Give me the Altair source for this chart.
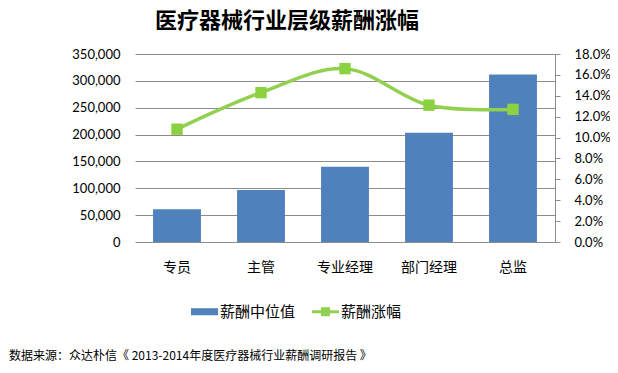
import altair as alt
import pandas as pd

categories = ["专员", "主管", "专业经理", "部门经理", "总监"]
salary_median = [61000, 97000, 140000, 203500, 312000]
salary_growth = [0.108, 0.143, 0.166, 0.131, 0.127]
left_ticks = [0, 50000, 100000, 150000, 200000, 250000, 300000, 350000]
right_ticks = [0.0, 0.02, 0.04, 0.06, 0.08, 0.10, 0.12, 0.14, 0.16, 0.18]
series_names = ["薪酬中位值", "薪酬涨幅"]

df = pd.DataFrame({"cat": categories, "median": salary_median, "growth": salary_growth})
legend_df = pd.DataFrame({"s": series_names, "cat": categories[:2]})

CJK = "Noto Sans CJK SC"
NUM = "Lato"
BLUE = "#4F81BD"
GREEN = "#92D050"

color_scale = alt.Scale(domain=series_names, range=[BLUE, GREEN])
shape_scale = alt.Scale(domain=series_names,
                        range=["M-1,-0.26H1V0.26H-1Z",
                               "M-1,-0.11H1V0.11H-1Z M-0.33,-0.33H0.33V0.33H-0.33Z"])

x_enc = alt.X("cat:N", sort=categories, title=None,
              scale=alt.Scale(paddingInner=0.43, paddingOuter=0.215),
              axis=alt.Axis(labelFont=CJK, labelFontSize=14, labelColor="#000",
                            labelAngle=0, ticks=False, domain=False, labelPadding=18))

bars = alt.Chart(df).mark_bar(color=BLUE).encode(
    x=x_enc,
    y=alt.Y("median:Q", title=None,
            scale=alt.Scale(domain=[0, 350000], nice=False),
            axis=alt.Axis(values=left_ticks, format=",.0f", labelFont=NUM, labelFontSize=13,
                          labelColor="#000", ticks=False, domain=False, labelPadding=15,
                          grid=True, gridColor="#8c8c8c", gridWidth=1)),
)

line = alt.Chart(df).mark_line(color=GREEN, strokeWidth=3.5, interpolate="catmull-rom").encode(
    x=alt.X("cat:N", sort=categories),
    y=alt.Y("growth:Q", title=None,
            scale=alt.Scale(domain=[0, 0.18], nice=False),
            axis=alt.Axis(orient="right", values=right_ticks, format=".1%", labelFont=NUM,
                          labelFontSize=13, labelColor="#000", ticks=True, tickSize=5,
                          tickColor="#8c8c8c", domain=True, domainColor="#8c8c8c",
                          labelPadding=14, grid=False)),
)

points = alt.Chart(df).mark_point(shape="square", filled=True, size=130, opacity=1,
                                  color="#8CD13F").encode(
    x=alt.X("cat:N", sort=categories),
    y=alt.Y("growth:Q", scale=alt.Scale(domain=[0, 0.18], nice=False), axis=None)
)

legend_layer = alt.Chart(legend_df).mark_point(filled=True, size=0, opacity=1).encode(
    x=alt.X("cat:N", sort=categories),
    color=alt.Color("s:N", scale=color_scale, title=None,
                    legend=alt.Legend(orient="none", legendX=56, legendY=244,
                                      direction="horizontal", labelFont=CJK,
                                      labelFontSize=15, labelColor="#000",
                                      symbolSize=729, symbolOpacity=1, labelOffset=2,
                                      columnPadding=16, symbolStrokeWidth=0)),
    shape=alt.Shape("s:N", scale=shape_scale, title=None),
)

source = alt.Chart(df).mark_text(text="数据来源：众达朴信《 2013-2014年度医疗器械行业薪酬调研报告 》",
                                 font=CJK, fontSize=12, align="left", baseline="middle",
                                 color="#000").encode(
    x=alt.value(-126), y=alt.value(302)
).transform_filter("datum.cat == '专员'")

chart = alt.layer(bars, line, points, legend_layer, source).resolve_scale(y="independent").properties(
    width=420, height=188,
    autosize=alt.AutoSizeParams(type="none"),
    padding={"left": 127, "top": 46, "right": 55, "bottom": 124},
    title=alt.Title("医疗器械行业层级薪酬涨幅", font=CJK, fontSize=22, fontWeight="bold",
                    color="#000", anchor="middle", dx=-58, offset=15)
).configure_view(stroke=None)

chart.save("out.html", embed_options={"renderer": "svg", "actions": False})
